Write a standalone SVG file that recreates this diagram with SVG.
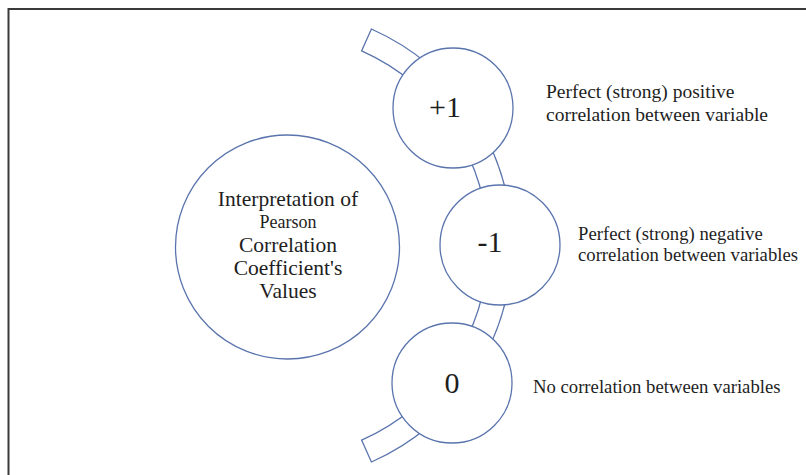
<svg xmlns="http://www.w3.org/2000/svg" width="806" height="475" viewBox="0 0 806 475">
<style>
.shape{fill:#ffffff;stroke:#5a74ad;stroke-width:1.3}
.t{font-family:"Liberation Serif","Times New Roman",serif;fill:#1e1e1e}
.big{font-size:30px;text-anchor:middle}
.c{font-size:21.5px;text-anchor:middle}
.r{font-size:19.5px}
.r2{font-size:18.7px}
</style>
<rect x="0" y="0" width="806" height="475" fill="#ffffff"/>
<g id="frame" fill="none" stroke="#3a3a3a" stroke-width="2">
<path d="M8.5 475 L8.5 9 L806 9"/>
</g>
<g id="connectors">
<path class="shape" d="M371.4 29 A237 237 0 0 1 371.4 462 L361.6 440.1 A213 213 0 0 0 361.6 50.9 Z"/>
</g>
<g id="center">
<circle class="shape" cx="287.5" cy="247" r="112"/>
<text class="t c" x="288" y="206">Interpretation of</text>
<text class="t c" x="288" y="228" style="font-size:18px">Pearson</text>
<text class="t c" x="288" y="252">Correlation</text>
<text class="t c" x="288" y="275">Coefficient's</text>
<text class="t c" x="288" y="298">Values</text>
</g>
<g id="plus1">
<circle class="shape" cx="453" cy="108" r="60"/>
<text class="t big" x="445" y="117">+1</text>
</g>
<g id="minus1">
<circle class="shape" cx="500" cy="245" r="60"/>
<text class="t big" x="490" y="252">-1</text>
</g>
<g id="zero">
<circle class="shape" cx="452" cy="383" r="60"/>
<text class="t big" x="452" y="393">0</text>
</g>
<g id="labels">
<text class="t r" x="546" y="98">Perfect (strong) positive</text>
<text class="t r" x="546" y="121">correlation between variable</text>
<text class="t r2" x="578" y="240">Perfect (strong) negative</text>
<text class="t r2" x="578" y="261">correlation between variables</text>
<text class="t r2" x="533" y="393">No correlation between variables</text>
</g>
</svg>
